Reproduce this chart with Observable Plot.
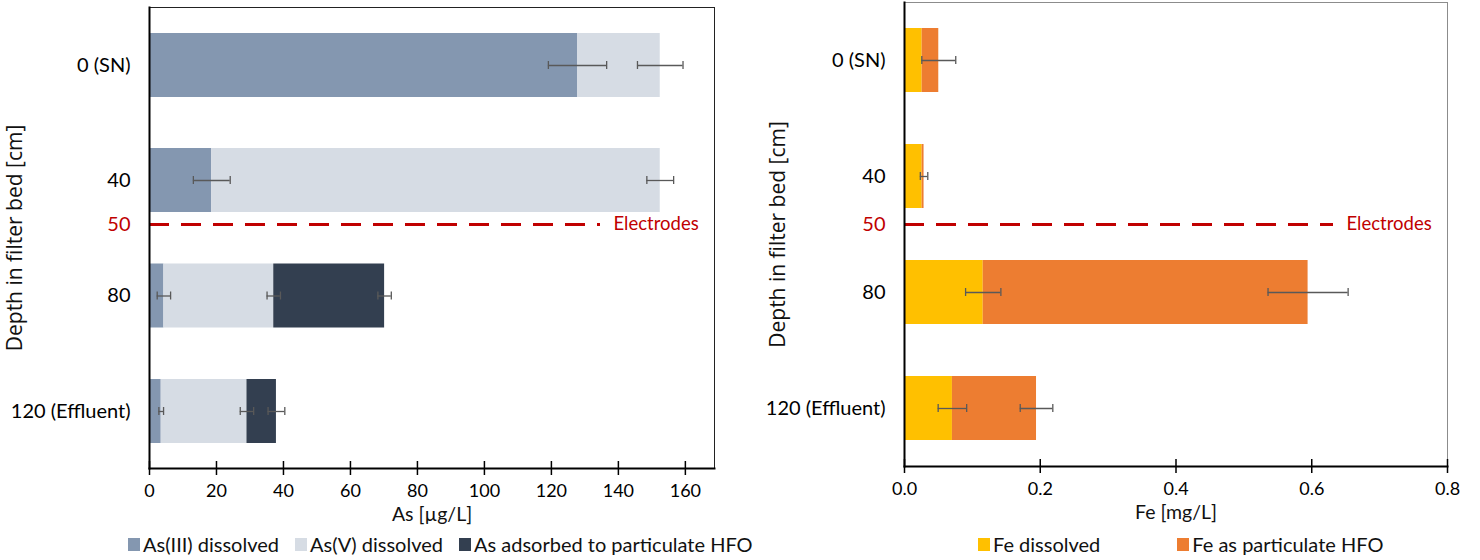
<!DOCTYPE html>
<html>
<head>
<meta charset="utf-8">
<script src="https://cdn.jsdelivr.net/npm/d3@7"></script>
<script src="https://cdn.jsdelivr.net/npm/@observablehq/plot@0.6"></script>
<style>
  html, body { margin: 0; padding: 0; background: #fff; }
  body { width: 1480px; height: 560px; position: relative; overflow: hidden; }
  #left { position: absolute; left: 0; top: 0; }
  #right { position: absolute; left: 740px; top: 0; }
  .legend { position: absolute; top: 532px; display: flex; align-items: center;
    font-family: Lato, "Liberation Sans", sans-serif;
    font-size: 20px; color: #111; white-space: nowrap; line-height: 24px; }
  .legend .item { display: flex; align-items: center; }
  .legend .sw { width: 12px; height: 13px; margin-right: 3px; display: inline-block; }
  #legL { left: 128px; }
  #legL .item { margin-right: 16px; }
  #legR { left: 978px; }
  #legR .item { margin-right: 77px; }
</style>
</head>
<body>
<div id="left"></div>
<div id="right"></div>
<div class="legend" id="legL"></div>
<div class="legend" id="legR"></div>
<script>
// ---------- data ----------
const depths = [0, 40, 80, 120];
const depthLabels = ["0 (SN)", "40", "80", "120 (Effluent)"];
const electrodeDepth = 50;
const electrodeLabel = "Electrodes";
const yTitle = "Depth in filter bed [cm]";

// Arsenic panel
const asSeries = ["As(III) dissolved", "As(V) dissolved", "As adsorbed to particulate HFO"];
const asColors = ["#8497B0", "#D6DCE4", "#333F50"];
const asIII = [127.8, 18.6, 4.3, 3.5];
const asV = [24.7, 133.9, 32.8, 25.6];
const asHFO = [0, 0, 33.1, 8.8];
const asIIIErr = [8.7, 5.5, 2.0, 0.7];
const asVErr = [6.8, 4.0, 2.0, 2.0];
const asHFOErr = [null, null, 2.0, 2.5];
const asTicks = [0, 20, 40, 60, 80, 100, 120, 140, 160];
const asLabel = "As [µg/L]";

// Iron panel
const feSeries = ["Fe dissolved", "Fe as particulate HFO"];
const feColors = ["#FFC000", "#ED7D31"];
const feDiss = [0.026, 0.026, 0.116, 0.0706];
const feHFO = [0.0245, 0.0028, 0.4786, 0.1239];
const feDissErr = [null, null, 0.026, 0.021];
const feHFOErr = [0.025, 0.0055, 0.059, 0.024];
const feTicks = [0, 0.2, 0.4, 0.6, 0.8];
const feLabel = "Fe [mg/L]";

const red = "#C00000";
const errColor = "#595959";
const tickFont = 'Lato, "Liberation Sans", sans-serif';
const titleFont = '"Open Sans", "DejaVu Sans", sans-serif';

function buildTables(series, values, errs) {
  const rows = [], errRows = [];
  depths.forEach((d, i) => {
    let acc = 0;
    series.forEach((s, j) => {
      const v = values[j][i];
      const x1 = acc, x2 = acc + v;
      acc = x2;
      if (v > 0) rows.push({depth: d, series: s, x1, x2});
      const e = errs[j][i];
      if (e != null) errRows.push({depth: d, lo: x2 - e, hi: x2 + e});
    });
  });
  return {rows, errRows};
}

function panel(o) {
  const {rows, errRows} = buildTables(o.series, o.values, o.errs);
  const labelOf = new Map(depths.map((d, i) => [d, depthLabels[i]]));
  return Plot.plot({
    width: 740,
    height: 510,
    marginLeft: o.marginLeft,
    marginRight: o.marginRight,
    marginTop: o.marginTop,
    marginBottom: o.marginBottom,
    style: {fontFamily: tickFont, fontSize: "19px", color: "#000", background: "transparent", overflow: "visible"},
    x: {domain: o.xDomain},
    y: {type: "linear", domain: [0, 40, 50, 80, 120], range: o.yRange},
    color: {domain: o.series, range: o.colors},
    marks: [
      Plot.frame({stroke: o.frameStroke, strokeWidth: 1}),
      Plot.rect(rows, {x1: "x1", x2: "x2", y1: "depth", y2: "depth", insetTop: -32, insetBottom: -32, fill: "series"}),
      Plot.ruleY(errRows, {y: "depth", x1: "lo", x2: "hi", stroke: errColor, strokeWidth: 1.3}),
      Plot.ruleX(errRows, {x: "lo", y1: "depth", y2: "depth", insetTop: -4, insetBottom: -4, stroke: errColor, strokeWidth: 1.3}),
      Plot.ruleX(errRows, {x: "hi", y1: "depth", y2: "depth", insetTop: -4, insetBottom: -4, stroke: errColor, strokeWidth: 1.3}),
      Plot.ruleY([electrodeDepth], {y: d => d, stroke: red, strokeWidth: 3, strokeDasharray: "20,12", insetRight: 114}),
      Plot.text([electrodeDepth], {y: d => d, text: () => electrodeLabel, frameAnchor: "right", dx: -101, textAnchor: "start", fill: red, fontSize: 18.5}),
      Plot.axisY(depths, {tickSize: 0, tickPadding: 19, tickFormat: d => labelOf.get(d), fontSize: 20, label: null}),
      Plot.axisY([electrodeDepth], {tickSize: 0, tickPadding: 19, tickFormat: d => String(d), fill: red, fontSize: 20, label: null}),
      Plot.axisX(o.xTicks, {tickSize: 7, tickPadding: 9, tickFormat: o.xFormat, strokeWidth: 1.5, fontSize: 18, label: null}),
      Plot.axisX(o.xTicks, {tickSize: -7, tickFormat: () => "", strokeWidth: 1.5, label: null}),
      Plot.frame({anchor: "left", stroke: "#000", strokeWidth: 2}),
      Plot.frame({anchor: "bottom", stroke: "#000", strokeWidth: 2}),
      Plot.text([o.xLabel], {frameAnchor: "bottom", dy: 52, fontSize: 19.5, fill: "#111"}),
      Plot.text([yTitle], {frameAnchor: "left", rotate: -90, dx: o.titleDx, textAnchor: "middle", fontFamily: titleFont, fontSize: 21, fill: "#111"})
    ]
  });
}

document.getElementById("left").append(panel({
  series: asSeries, colors: asColors,
  values: [asIII, asV, asHFO], errs: [asIIIErr, asVErr, asHFOErr],
  xDomain: [0, 168.7], xTicks: asTicks, xFormat: d => String(d), xLabel: asLabel,
  yRange: [65, 180, 224, 295.5, 411],
  marginLeft: 149, marginRight: 26, marginTop: 7, marginBottom: 42,
  frameStroke: "#222", titleDx: -134
}));

document.getElementById("right").append(panel({
  series: feSeries, colors: feColors,
  values: [feDiss, feHFO], errs: [feDissErr, feHFOErr],
  xDomain: [0, 0.8], xTicks: feTicks, xFormat: d3.format(".1f"), xLabel: feLabel,
  yRange: [60, 176, 224, 292, 408],
  marginLeft: 164, marginRight: 33, marginTop: 2, marginBottom: 44,
  frameStroke: "#8c8c8c", titleDx: -126
}));

function legend(id, series, colors) {
  const el = document.getElementById(id);
  series.forEach((s, i) => {
    const item = document.createElement("div");
    item.className = "item";
    const sw = document.createElement("span");
    sw.className = "sw";
    sw.style.background = colors[i];
    const t = document.createElement("span");
    t.textContent = s;
    item.append(sw, t);
    el.append(item);
  });
}
legend("legL", asSeries, asColors);
legend("legR", feSeries, feColors);
</script>
</body>
</html>
